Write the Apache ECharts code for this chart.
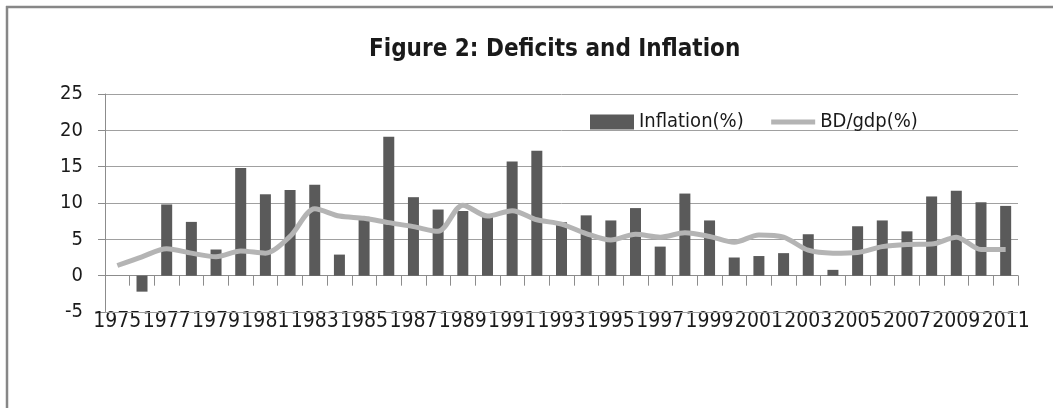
<!DOCTYPE html>
<html>
<head>
<meta charset="utf-8">
<script src="https://cdn.jsdelivr.net/npm/echarts@6/dist/echarts.min.js"></script>
<style>
  html, body { margin: 0; padding: 0; background: #fff; }
  #main { width: 1053px; height: 408px; }
</style>
</head>
<body>
<div id="main"></div>
<script>
// data
var years = ['1975','1976','1977','1978','1979','1980','1981','1982','1983','1984','1985','1986','1987','1988','1989','1990','1991','1992','1993','1994','1995','1996','1997','1998','1999','2000','2001','2002','2003','2004','2005','2006','2007','2008','2009','2010','2011'];
var inflation = [null, -2.2, 9.8, 7.4, 3.6, 14.8, 11.2, 11.8, 12.5, 2.9, 8.1, 19.1, 10.8, 9.1, 8.9, 8.1, 15.7, 17.2, 7.35, 8.3, 7.6, 9.3, 4.0, 11.3, 7.6, 2.5, 2.7, 3.1, 5.7, 0.8, 6.8, 7.6, 6.1, 10.9, 11.7, 10.1, 9.6];
var bdGdp = [1.4, 2.6, 3.7, 3.1, 2.6, 3.4, 3.1, 5.4, 9.2, 8.2, 7.9, 7.3, 6.75, 6.1, 9.7, 8.2, 8.95, 7.7, 7.1, 5.8, 4.9, 5.7, 5.3, 5.9, 5.4, 4.6, 5.6, 5.3, 3.5, 3.1, 3.2, 4.0, 4.3, 4.35, 5.3, 3.6, 3.6];
var yTicks = [-5, 0, 5, 10, 15, 20, 25];

var FONT = '"DejaVu Sans Condensed", "Liberation Sans", sans-serif';

var myChart = echarts.init(document.getElementById('main'));
var option = {
    backgroundColor: '#fff',
    animation: false,
    textStyle: { fontFamily: FONT, color: '#1a1a1a' },
    title: {
        text: 'Figure 2: Deficits and Inflation',
        left: 364,
        top: 33,
        textStyle: { fontFamily: FONT, fontSize: 24, fontWeight: 'bold', color: '#1a1a1a' }
    },
    legend: {
        left: 585,
        top: 107,
        itemWidth: 44,
        itemHeight: 15,
        itemGap: 25,
        textStyle: { fontFamily: FONT, fontSize: 20, color: '#1a1a1a' },
        data: [
            { name: 'Inflation(%)', icon: 'rect' },
            { name: 'BD/gdp(%)', itemStyle: { opacity: 0 }, lineStyle: { width: 5, color: '#b4b4b4' } }
        ]
    },
    graphic: [
        { type: 'line', shape: { x1: 6, y1: 7, x2: 1053, y2: 7 }, style: { stroke: '#878787', lineWidth: 2.5 } },
        { type: 'line', shape: { x1: 7, y1: 6, x2: 7, y2: 408 }, style: { stroke: '#878787', lineWidth: 2.5 } }
    ],
    grid: { left: 105, right: 35, top: 94, bottom: 96 },
    xAxis: [{
        type: 'category',
        data: years,
        axisLine: { onZero: true, lineStyle: { color: '#8c8c8c', width: 1 } },
        axisTick: { show: true, interval: 0, length: 10, lineStyle: { color: '#8c8c8c' } },
        axisLabel: { show: false }
    }, {
        // labels sit low, under the -5 line
        type: 'category',
        data: years,
        position: 'bottom',
        axisLine: { show: false, onZero: false },
        axisTick: { show: false },
        axisLabel: {
            interval: 1, margin: -1, fontSize: 21, fontFamily: FONT, color: '#1a1a1a',
            hideOverlap: false, showMinLabel: true, showMaxLabel: true
        }
    }],
    yAxis: {
        type: 'value',
        min: yTicks[0],
        max: yTicks[yTicks.length - 1],
        interval: 5,
        axisLine: { show: true, lineStyle: { color: '#8c8c8c' } },
        axisTick: { show: true, length: 7, lineStyle: { color: '#8c8c8c' } },
        axisLabel: { margin: 22, fontSize: 20, fontFamily: FONT, color: '#1a1a1a' },
        splitLine: { lineStyle: { color: '#a0a0a0', width: 1 } }
    },
    series: [{
        name: 'Inflation(%)',
        type: 'bar',
        data: inflation,
        barWidth: 11,
        itemStyle: { color: '#5a5a5a' },
        // bottom gridline at -5
        markLine: {
            silent: true,
            symbol: 'none',
            label: { show: false },
            lineStyle: { color: '#a0a0a0', width: 1, type: 'solid' },
            data: [{ yAxis: yTicks[0] }]
        }
    }, {
        name: 'BD/gdp(%)',
        type: 'line',
        data: bdGdp,
        smooth: 0.3,
        symbol: 'none',
        lineStyle: { color: '#b4b4b4', width: 5 },
        itemStyle: { color: '#b4b4b4' }
    }]
};
myChart.setOption(option);
</script>
</body>
</html>
